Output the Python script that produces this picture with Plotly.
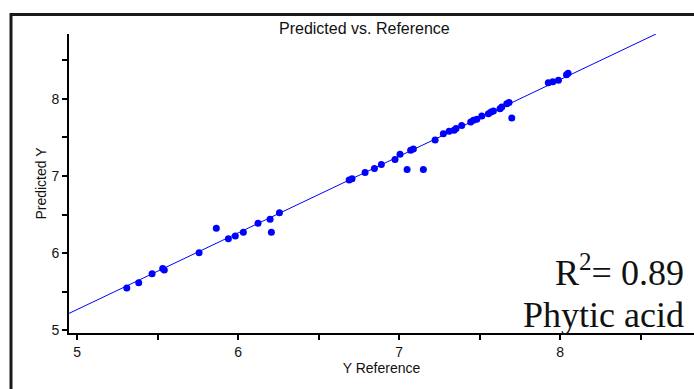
import plotly.graph_objects as go

# Reference (x) and predicted (y) values
y_reference = [5.309, 5.383, 5.466, 5.532, 5.542, 5.758, 5.865, 5.940, 5.983, 6.033,
               6.124, 6.199, 6.207, 6.257, 6.690, 6.708, 6.789, 6.847, 6.890, 6.975,
               7.006, 7.050, 7.072, 7.089, 7.151, 7.224, 7.275, 7.311, 7.342, 7.354,
               7.389, 7.445, 7.462, 7.483, 7.514, 7.555, 7.571, 7.586, 7.627, 7.638,
               7.669, 7.683, 7.700, 7.927, 7.955, 7.990, 8.040, 8.050]
predicted_y = [5.548, 5.617, 5.733, 5.800, 5.780, 6.004, 6.323, 6.185, 6.223, 6.271,
               6.387, 6.439, 6.271, 6.524, 6.946, 6.963, 7.045, 7.097, 7.148, 7.213,
               7.281, 7.085, 7.333, 7.350, 7.085, 7.466, 7.548, 7.578, 7.591, 7.613,
               7.655, 7.698, 7.720, 7.733, 7.776, 7.806, 7.827, 7.840, 7.871, 7.892,
               7.935, 7.952, 7.750, 8.206, 8.219, 8.240, 8.310, 8.330]

# Fitted line end points
fit_x = [4.95, 8.596]
fit_y = [5.219, 8.839]

x_ticks = [5, 6, 7, 8]
y_ticks = [5, 6, 7, 8]

title_text = "Predicted vs. Reference"
r2_text = "R<sup>2</sup>= 0.89"
analyte_text = "Phytic acid"

fig = go.Figure()
fig.add_trace(go.Scatter(x=fit_x, y=fit_y, mode="lines",
                         line=dict(color="#0000FF", width=1), hoverinfo="skip",
                         showlegend=False))
fig.add_trace(go.Scatter(x=y_reference, y=predicted_y, mode="markers",
                         marker=dict(color="#0000FF", size=7), showlegend=False))

W, H = 694, 389
L, R, T, B = 69, 0, 34, 389 - 333.5
pw = W - L - R
ph = H - T - B

def px(xp):
    return (xp - L) / pw

def py(yp):
    return (H - B - yp) / ph

axis_font = dict(family="Arial, Liberation Sans, sans-serif", size=14, color="#111111")

fig.update_layout(
    width=W, height=H,
    margin=dict(l=L, r=R, t=T, b=B, pad=0),
    paper_bgcolor="white", plot_bgcolor="white",
    font=axis_font,
    xaxis=dict(range=[4.95, 4.95 + pw / 161.0], tickvals=x_ticks,
               ticktext=[str(v) for v in x_ticks],
               showgrid=False, zeroline=False, showline=True,
               linecolor="black", linewidth=2, ticks="outside", ticklen=5,
               tickwidth=2, tickcolor="black", tickfont=axis_font,
               minor=dict(dtick=0.5, tick0=5, ticks="outside", ticklen=5,
                          tickwidth=2, tickcolor="black", showgrid=False),
               title=dict(text="Y Reference", font=axis_font, standoff=4)),
    yaxis=dict(range=[4.965, 8.839], tickvals=y_ticks,
               ticktext=[str(v) for v in y_ticks],
               showgrid=False, zeroline=False, showline=True,
               linecolor="black", linewidth=2, ticks="outside", ticklen=5,
               tickwidth=2, tickcolor="black", tickfont=axis_font,
               minor=dict(dtick=0.5, tick0=5, ticks="outside", ticklen=5,
                          tickwidth=2, tickcolor="black", showgrid=False),
               title=dict(text="Predicted Y", font=axis_font, standoff=2)),
)

# Outer frame
fig.add_shape(type="rect", xref="paper", yref="paper",
              x0=px(11), x1=px(720), y0=py(420), y1=py(14.5),
              line=dict(color="#1a1a1a", width=3), fillcolor="rgba(0,0,0,0)",
              layer="above")

fig.add_annotation(text=title_text, xref="paper", yref="paper",
                   x=px(364), y=py(28), xanchor="center", yanchor="middle",
                   showarrow=False,
                   font=dict(family="Arial, Liberation Sans, sans-serif", size=16, color="#111111"))

serif = dict(family="Times New Roman, Liberation Serif, serif", size=36, color="#111111")
fig.add_annotation(text=r2_text, xref="paper", yref="paper",
                   x=px(686), y=py(271), xanchor="right", yanchor="middle",
                   showarrow=False, font=serif)
fig.add_annotation(text=analyte_text, xref="paper", yref="paper",
                   x=px(686), y=py(315), xanchor="right", yanchor="middle",
                   showarrow=False, font=serif)

fig.write_html("out.html")
